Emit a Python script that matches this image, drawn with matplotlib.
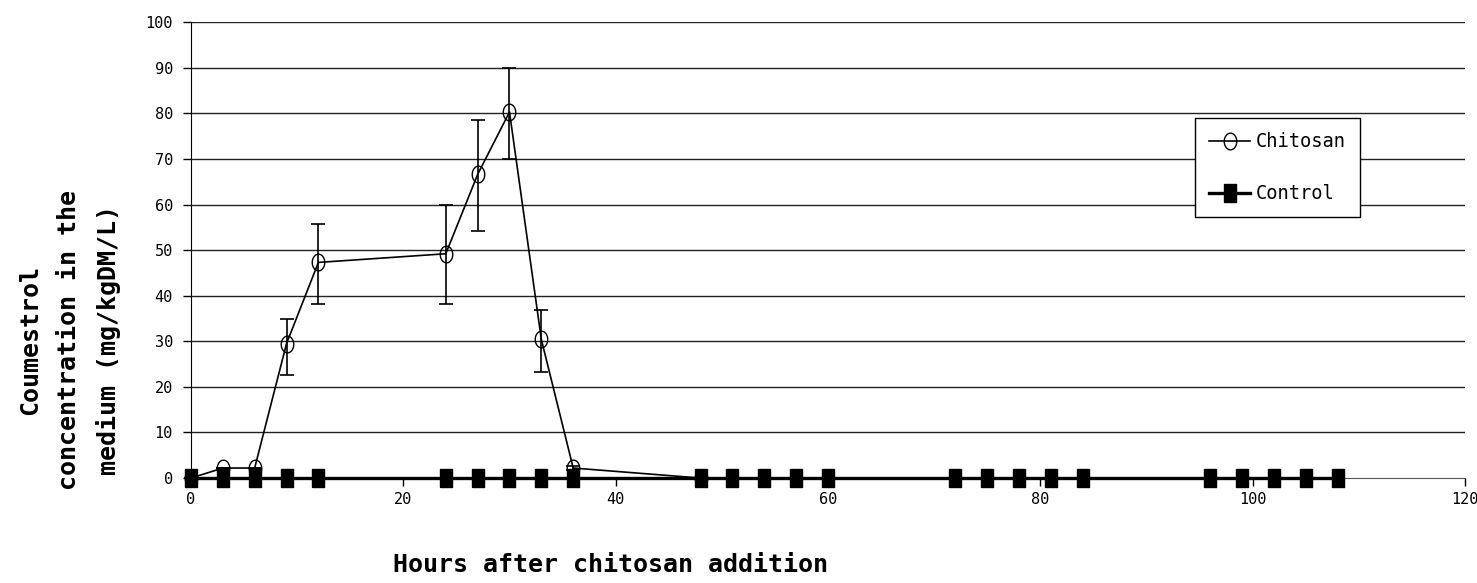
"""
Coumestrol concentration in the medium after chitosan addition
"""
import matplotlib
matplotlib.use("Agg")
import matplotlib.pyplot as plt
import numpy as np
from matplotlib.path import Path

# data
chit_hours = [0, 3, 6, 9, 12, 24, 27, 30, 33, 36, 48]
chit_conc = [0, 2.2, 2.2, 29.5, 47.3, 49.2, 66.6, 80.3, 30.4, 2.2, 0]
chit_err_lo = [0, 0, 0, 6.8, 9.2, 11.1, 12.3, 10.3, 7.2, 0.5, 0]
chit_err_hi = [0, 0, 0, 5.3, 8.5, 10.8, 11.9, 9.7, 6.4, 0.5, 0]

ctrl_hours = [0, 3, 6, 9, 12, 24, 27, 30, 33, 36, 48, 51, 54, 57, 60,
              72, 75, 78, 81, 84, 96, 99, 102, 105, 108]
ctrl_conc = [0] * len(ctrl_hours)

xticks = [0, 20, 40, 60, 80, 100, 120]
yticks = [0, 10, 20, 30, 40, 50, 60, 70, 80, 90, 100]

# tall ellipse and tall rectangle markers like the original
t = np.linspace(0, 2 * np.pi, 60)
oval = Path(np.column_stack([0.75 * np.cos(t), np.sin(t)]))
rect = Path([(-0.7, -1), (0.7, -1), (0.7, 1), (-0.7, 1), (-0.7, -1)])

fig = plt.figure(figsize=(14.77, 5.83), dpi=100)
ax = fig.add_axes([0.1293, 0.180, 0.8626, 0.782])

for y in yticks[1:]:
    ax.axhline(y, color='#222222', linewidth=1.0, zorder=0)

ctrl_line, = ax.plot(ctrl_hours, ctrl_conc, '-', marker=rect, color='black',
                     markerfacecolor='black', markersize=13, linewidth=2.4,
                     label='Control', zorder=3, clip_on=False)
eb = ax.errorbar(chit_hours, chit_conc, yerr=[chit_err_lo, chit_err_hi],
                 fmt='-', marker=oval, color='black', markerfacecolor='none',
                 markersize=12, linewidth=1.2, elinewidth=1.2, capsize=5,
                 capthick=1.2, label='Chitosan', zorder=4)
for art in [eb[0]] + list(eb[1]) + list(eb[2]):
    art.set_clip_on(False)

ax.set_xlim(0, 120)
ax.set_ylim(0, 100)
ax.set_xticks(xticks)
ax.set_yticks(yticks)
ax.tick_params(direction='out', length=6, width=1, labelsize=11)
ax.tick_params(axis='x', pad=4)
ax.tick_params(axis='y', pad=7)
for lab in ax.get_xticklabels() + ax.get_yticklabels():
    lab.set_family('DejaVu Sans Mono')

for s in ['top', 'right']:
    ax.spines[s].set_visible(False)
ax.spines['left'].set_color('black')
ax.spines['bottom'].set_color('#555555')

leg = ax.legend([eb[0], ctrl_line], ['Chitosan', 'Control'], loc='upper left',
                bbox_to_anchor=(0.788, 0.789), borderaxespad=0,
                fancybox=False, edgecolor='black', framealpha=1,
                prop={'family': 'DejaVu Sans Mono', 'size': 13.5},
                labelspacing=1.75, handlelength=2.2, borderpad=0.75,
                handletextpad=0.3, numpoints=1)
leg.get_frame().set_linewidth(1.0)

fig.text(0.047, 0.417, "Coumestrol\nconcentration in the\nmedium (mg/kgDM/L)",
         rotation=90, ha='center', va='center', multialignment='center',
         fontsize=18, fontweight='bold', family='DejaVu Sans Mono',
         linespacing=1.75)
fig.text(0.413, 0.031, "Hours after chitosan addition", ha='center',
         va='center', fontsize=18, fontweight='bold',
         family='DejaVu Sans Mono')

fig.savefig("out.png", dpi=100)
